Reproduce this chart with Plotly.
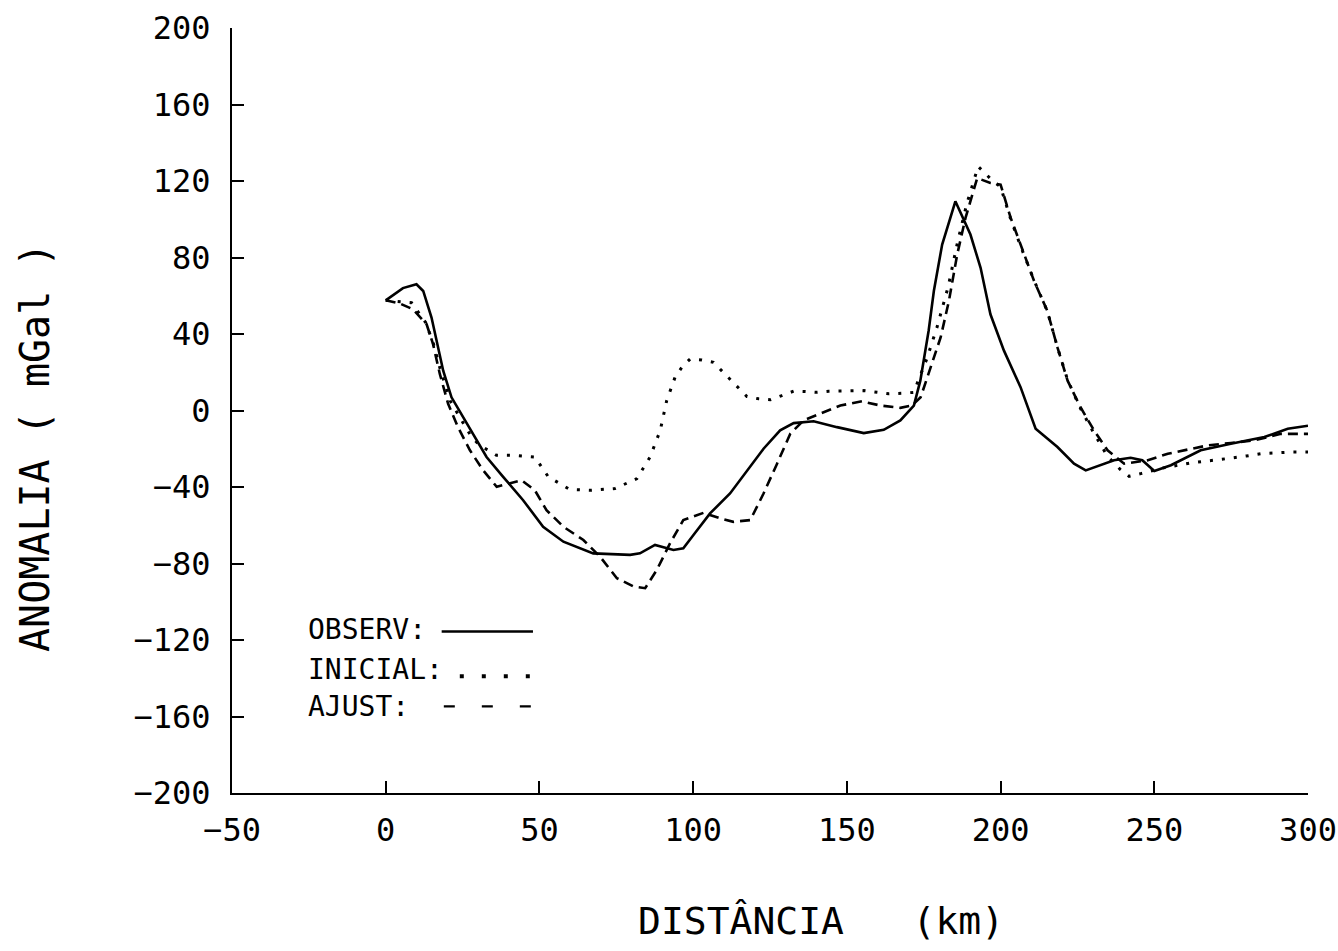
import plotly.graph_objects as go

# ---- data ----
observ_x = [0, 5.6, 10, 12.2, 14.9, 16.5, 18.7, 21.4, 25.2, 29.5, 32.8, 38.2, 44.7, 51.2, 57.8,
            67.5, 79.5, 82.7, 87.6, 93.6, 96.8, 100.1, 105.5, 112, 117.5, 122.9, 128.3, 132.7,
            139.2, 146.8, 155.5, 162, 167.4, 171.8, 173.9, 176.6, 178.3, 181, 185.3, 190.2, 193.5,
            196.7, 201.1, 206.5, 211.4, 218.5, 223.9, 227.7, 236.9, 242.3, 246.1, 250, 255.4,
            260.8, 265.1, 274.9, 285.8, 293.4, 300]
observ_y = [57.6, 64, 66, 62.5, 48.6, 36.5, 20.8, 6.9, -3.5, -15.6, -24.3, -34.7, -46.9, -60.8, -68.6,
            -74.7, -75.5, -74.7, -70.3, -72.9, -72, -65.1, -53.8, -43.4, -31.3, -20, -10.4, -6.6,
            -5.6, -8.7, -11.8, -10.1, -5.2, 2.6, 15.6, 41.7, 62.5, 86.8, 109.4, 92, 74.6,
            50.3, 31.3, 12.2, -9.5, -19.1, -27.8, -31.3, -26, -24.7, -26, -31.6, -28.6,
            -24.3, -20.8, -17.4, -13.9, -9.5, -8]

inicial_x = [0, 8.4, 13, 15.5, 18, 21, 25, 28, 30.6, 36, 41.5, 48.5, 52.9, 59.9, 67, 74.6, 81.7,
             86, 89.3, 91.4, 94.1, 96.3, 99, 102.8, 106.6, 109.3, 112, 114.8, 117.5, 121.3, 125.1,
             128.9, 132.7, 136.5, 140.3, 144.1, 148, 151.8, 155.5, 159.9, 163.7, 168, 171.8,
             172.8, 176, 179.3, 183, 186, 189, 192.7, 195, 197.5, 200, 203.3, 206.5, 210.9,
             215.2, 218.5, 221.8, 226, 230.4, 234.8, 239, 241.8, 245.6, 253, 262, 266.8, 271.2,
             275.5, 279.9, 284.7, 289.1, 295, 300]
inicial_y = [57.6, 56.4, 46, 35, 20, 5, -6, -14, -18.2, -23.4, -23.4, -24.3, -34.7, -41.3, -41.7,
             -40.8, -35.6, -24.3, -10.4, 5.2, 17.3, 22.6, 26.9, 26.4, 25.2, 20.8, 16.5, 12.2, 7.3,
             6.1, 5.6, 7.8, 10.1, 9.9, 9.5, 10.1, 10.1, 10.4, 10.4, 9.5, 8.7, 9, 9.5,
             13.9, 27, 43.4, 65, 88, 108, 127.6, 124, 120, 117, 100, 86, 68,
             52, 33, 16, 1, -12, -24, -30.9, -34.4, -33, -30, -27.4, -26.6, -25.7,
             -24.8, -23.8, -22.6, -22.2, -21.7, -21.7]

ajust_x = [0, 4.6, 8.9, 13.3, 15.4, 17.6, 20.3, 23.5, 27.4, 31.7, 36.1, 40.4, 44.2, 48.5, 52.3,
           57.8, 64.3, 69.7, 75.2, 80.6, 84.4, 88.2, 92.5, 96.8, 103.4, 108.8, 113.1, 118.6,
           122.9, 127.3, 131.6, 135.9, 141.4, 147.9, 154.9, 160.9, 167.4, 171.2, 174, 177.2,
           180.5, 183.2, 185.9, 188.6, 192.4, 196.7, 200, 203.3, 206.5, 210.9, 215.2, 218.5,
           221.8, 226, 230.4, 234.8, 240.2, 247.9, 254.4, 262, 267.5, 274.9, 282.5, 291.2, 300]
ajust_y = [57.6, 55.9, 52.9, 45.1, 34.7, 19.1, 3.5, -8.7, -20.8, -31.3, -39.9, -38.2, -36.5, -41.7,
           -52.1, -60.8, -67.7, -76.4, -87.7, -92, -92.9, -83.3, -69.4, -57.3, -53.5, -56.4, -58.2,
           -57.3, -43.4, -27.8, -12.1, -5.2, -1.7, 2.6, 4.8, 2.6, 1.4, 2.6, 6.9, 22.6, 38.2, 57.3,
           81.6, 100.7, 121.5, 119, 118.1, 100.7, 86.8, 67.7, 52.1, 33, 15.6, 1.7, -10.4, -20.8,
           -27.8, -26, -22.6, -20, -18.2, -17, -15.6, -12.2, -12.2]

x_ticks = [-50, 0, 50, 100, 150, 200, 250, 300]
y_ticks = [-200, -160, -120, -80, -40, 0, 40, 80, 120, 160, 200]


def lab(v):
    return ("\u2212" + str(-v)) if v < 0 else str(v)


FONT = "DejaVu Sans Mono"

fig = go.Figure()
fig.add_trace(go.Scatter(x=observ_x, y=observ_y, mode="lines", name="OBSERV",
                         line=dict(color="black", width=2.6)))
fig.add_trace(go.Scatter(x=inicial_x, y=inicial_y, mode="lines", name="INICIAL",
                         line=dict(color="black", width=3, dash="3px,9px")))
fig.add_trace(go.Scatter(x=ajust_x, y=ajust_y, mode="lines", name="AJUST",
                         line=dict(color="black", width=2.6, dash="10px,6px")))

fig.update_layout(
    width=1338, height=951,
    margin=dict(l=232, r=30, t=28, b=158),
    paper_bgcolor="white", plot_bgcolor="white",
    showlegend=False,
    font=dict(family=FONT, color="black", size=25),
)
fig.update_xaxes(range=[-50, 300], tickvals=x_ticks, ticktext=[lab(v) for v in x_ticks],
                 automargin=False,
                 showgrid=False, zeroline=False, showline=True, linecolor="black", linewidth=2,
                 ticks="inside", ticklen=12, tickwidth=1.5, tickcolor="black",
                 ticklabelstandoff=8, tickfont=dict(family=FONT, size=32))
fig.update_yaxes(range=[-200, 200], tickvals=y_ticks, ticktext=[lab(v) for v in y_ticks],
                 automargin=False,
                 showgrid=False, zeroline=False, showline=True, linecolor="black", linewidth=2,
                 ticks="inside", ticklen=12, tickwidth=1.5, tickcolor="black",
                 ticklabelstandoff=13, tickfont=dict(family=FONT, size=32))

# axis titles
fig.add_annotation(text="ANOMALIA ( mGal )", xref="paper", yref="paper", x=-0.1833, y=0.452,
                   textangle=-90, showarrow=False, font=dict(family=FONT, size=40),
                   xanchor="center", yanchor="middle")
fig.add_annotation(text="DISTÂNCIA   (km)", xref="paper", yref="paper", x=0.547, y=-0.167,
                   showarrow=False, font=dict(family=FONT, size=38),
                   xanchor="center", yanchor="middle")

# legend (as drawn by the plotter: label followed by a line sample)
legend_rows = [("OBSERV:", -114.6), ("INICIAL:", -135.4), ("AJUST:", -154.7)]
for txt, yy in legend_rows:
    fig.add_annotation(text=txt, x=-25.8, y=yy, xref="x", yref="y", showarrow=False,
                       xanchor="left", yanchor="middle", font=dict(family=FONT, size=28))
fig.add_shape(type="line", x0=18.2, x1=47.9, y0=-115.5, y1=-115.5, xref="x", yref="y",
              line=dict(color="black", width=2.5))
fig.add_shape(type="line", x0=24.1, x1=47.2, y0=-139.0, y1=-139.0, xref="x", yref="y",
              line=dict(color="black", width=4, dash="4px,18px"))
fig.add_shape(type="line", x0=18.9, x1=47.9, y0=-154.7, y1=-154.7, xref="x", yref="y",
              line=dict(color="black", width=2.2, dash="11px,27px"))

fig.write_html("out.html")
